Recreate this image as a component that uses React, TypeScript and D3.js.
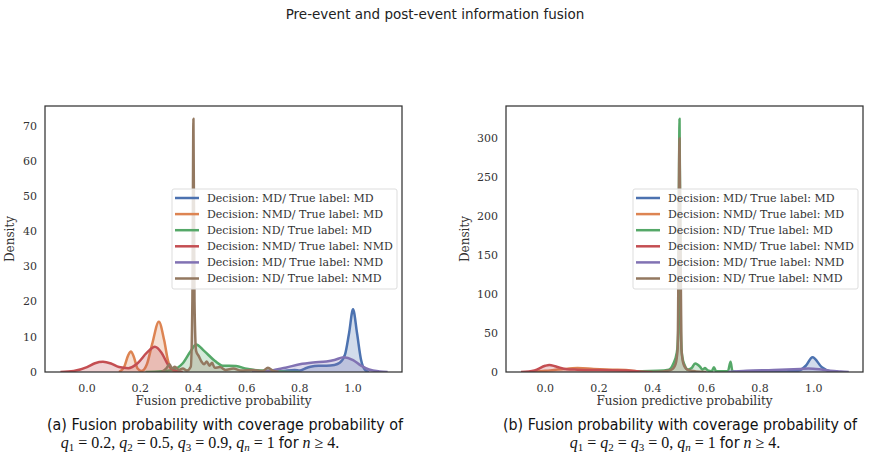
import * as d3 from "d3";

// density curves as [probability, density] pairs
const leftMdMd = [[0.70, 0], [0.74, 0.3], [0.78, 0.6], [0.80, 0.4], [0.82, 1.0], [0.84, 1.5], [0.87, 1.8], [0.90, 1.8], [0.93, 2.0], [0.95, 2.6], [0.97, 5], [0.985, 11], [1.0, 17.8], [1.015, 11], [1.03, 3.5], [1.045, 0.6], [1.06, 0]];
const leftNmdMd = [[0.12, 0], [0.14, 1.5], [0.155, 4.8], [0.165, 5.8], [0.175, 4.5], [0.19, 1.0], [0.205, 0.3], [0.225, 2.2], [0.245, 8], [0.27, 14.3], [0.29, 9], [0.305, 3], [0.32, 0.5], [0.34, 0]];
const leftNdMd = [[0.22, 0], [0.28, 0.2], [0.32, 0.6], [0.36, 2.5], [0.39, 6], [0.41, 7.8], [0.44, 6], [0.48, 3.2], [0.51, 1.8], [0.56, 1.7], [0.6, 0.9], [0.65, 0.4], [0.7, 0.3], [0.75, 0.1], [0.8, 0]];
const leftNmdNmd = [[-0.1, 0], [-0.05, 0.3], [0.0, 1.4], [0.03, 2.5], [0.06, 2.9], [0.09, 2.4], [0.12, 1.4], [0.155, 1.1], [0.19, 2.5], [0.225, 5.5], [0.255, 7.2], [0.28, 5.5], [0.305, 2.0], [0.33, 0.4], [0.36, 0]];
const leftMdNmd = [[0.62, 0], [0.7, 0.5], [0.75, 1.3], [0.8, 2.2], [0.85, 2.7], [0.9, 3.0], [0.93, 3.4], [0.965, 4.2], [1.0, 3.4], [1.03, 1.8], [1.06, 0.7], [1.1, 0.15], [1.13, 0]];
const leftNdNmd = [[0.28, 0], [0.3, 1.2], [0.31, 2.2], [0.32, 1.0], [0.33, 1.5], [0.345, 0.6], [0.36, 1.0], [0.375, 0.4], [0.39, 1.5], [0.396, 20], [0.4, 72], [0.404, 20], [0.41, 6], [0.42, 4.5], [0.43, 3], [0.44, 2.2], [0.45, 3.0], [0.46, 1.8], [0.47, 2.6], [0.48, 1.2], [0.5, 1.4], [0.52, 0.6], [0.55, 1.0], [0.58, 0.4], [0.62, 0.6], [0.66, 0.3], [0.68, 1.2], [0.7, 0.3], [0.72, 0]];

const rightMdMd = [[0.7, 0], [0.8, 0.3], [0.9, 0.8], [0.94, 1.5], [0.97, 8], [0.995, 19], [1.03, 6], [1.06, 1], [1.09, 0]];
const rightNmdMd = [[-0.05, 0], [0.0, 1.5], [0.06, 3.5], [0.12, 5], [0.18, 4], [0.25, 3], [0.3, 2.5], [0.34, 1], [0.38, 0]];
const rightNdMd = [[0.32, 0], [0.36, 1], [0.42, 1.5], [0.46, 3], [0.476, 10], [0.49, 25], [0.495, 50], [0.5, 325], [0.505, 50], [0.51, 20], [0.52, 8], [0.53, 3], [0.545, 5], [0.558, 11], [0.576, 7], [0.585, 3], [0.595, 5], [0.605, 2], [0.62, 1], [0.628, 6], [0.636, 1], [0.66, 1], [0.68, 1], [0.69, 13], [0.697, 1], [0.71, 0]];
const rightNmdNmd = [[-0.09, 0], [-0.04, 2], [0.0, 8], [0.015, 9], [0.04, 7], [0.08, 3.5], [0.12, 3], [0.2, 2.5], [0.3, 2], [0.35, 0.8], [0.4, 0]];
const rightMdNmd = [[0.68, 0], [0.75, 1.5], [0.85, 2.5], [0.95, 4], [0.98, 4.5], [1.02, 3.5], [1.06, 1.5], [1.1, 0.5], [1.13, 0]];
const rightNdNmd = [[0.4, 0], [0.44, 0.8], [0.47, 3], [0.485, 10], [0.493, 30], [0.5, 300], [0.507, 30], [0.515, 10], [0.53, 3], [0.56, 0.8], [0.6, 0]];

const seriesLabels = [
  "Decision: MD/ True label: MD",
  "Decision: NMD/ True label: MD",
  "Decision: ND/ True label: MD",
  "Decision: NMD/ True label: NMD",
  "Decision: MD/ True label: NMD",
  "Decision: ND/ True label: NMD",
];
const palette = ["#4C72B0", "#DD8452", "#55A868", "#C44E52", "#8172B3", "#937860"];

const xTicks = [0, 0.2, 0.4, 0.6, 0.8, 1.0];
const leftYTicks = [0, 10, 20, 30, 40, 50, 60, 70];
const rightYTicks = [0, 50, 100, 150, 200, 250, 300];

const leftSeries = [leftMdMd, leftNmdMd, leftNdMd, leftNmdNmd, leftMdNmd, leftNdNmd];
const rightSeries = [rightMdMd, rightNmdMd, rightNdMd, rightNmdNmd, rightMdNmd, rightNdNmd];

const SERIF = "'DejaVu Serif', serif";
const MATH = "'Liberation Serif', 'DejaVu Serif', serif";
const SANS = "'DejaVu Sans', sans-serif";
const NARROW = "'Liberation Sans Narrow', 'DejaVu Sans Condensed', 'Liberation Sans', sans-serif";

type Pt = number[];

const Panel = ({ left, series, xDomain, yTicks, yLabelX }: { left: number; series: Pt[][]; xDomain: number[]; yTicks: number[]; yLabelX: number }) => {
  const top = 106;
  const bottom = 372;
  const width = 357;
  const yMax = d3.max(series.flat(), (d) => d[1]) * 1.05;
  const x = d3.scaleLinear().domain(xDomain).range([left, left + width]);
  const y = d3.scaleLinear().domain([0, yMax]).range([bottom, top]);

  const line = d3.line<Pt>().x((d) => x(d[0])).y((d) => y(d[1])).curve(d3.curveMonotoneX);
  const area = d3.area<Pt>().x((d) => x(d[0])).y0(y(0)).y1((d) => y(d[1])).curve(d3.curveMonotoneX);

  const clipId = `clip-${left}`;
  const legW = 225;
  const legH = 100;
  const legX = left + width - 5 - legW;
  const legY = (top + bottom) / 2 - legH / 2;

  return (
    <g>
      <defs>
        <clipPath id={clipId}>
          <rect x={left} y={top} width={width} height={bottom - top} />
        </clipPath>
      </defs>
      <g clipPath={`url(#${clipId})`}>
        {series.map((s, i) => (
          <g key={i}>
            <path d={area(s)} fill={palette[i]} fillOpacity={0.25} />
            <path d={line(s)} fill="none" stroke={palette[i]} strokeWidth={2.5} strokeLinejoin="round" />
          </g>
        ))}
      </g>
      <rect x={left} y={top} width={width} height={bottom - top} fill="none" stroke="#333" strokeWidth={1.25} />

      {xTicks.map((t) => (
        <text key={t} x={x(t)} y={bottom + 20} textAnchor="middle" fontFamily={SERIF} fontSize={11} fill="#333">
          {d3.format(".1f")(t)}
        </text>
      ))}
      {yTicks.map((t) => (
        <text key={t} x={left - 8} y={y(t)} dy="0.35em" textAnchor="end" fontFamily={SERIF} fontSize={11} fill="#333">
          {t}
        </text>
      ))}
      <text x={left + width / 2} y={bottom + 33} textAnchor="middle" fontFamily={SERIF} fontSize={12} fill="#333">
        Fusion predictive probability
      </text>
      <text transform={`translate(${yLabelX},${(top + bottom) / 2}) rotate(-90)`} textAnchor="middle" fontFamily={SERIF} fontSize={12} fill="#333">
        Density
      </text>

      <g>
        <rect x={legX} y={legY} width={legW} height={legH} rx={2} fill="#fff" fillOpacity={0.8} stroke="#ddd" strokeWidth={1} />
        {seriesLabels.map((label, i) => {
          const ry = legY + 9 + i * 16.1;
          return (
            <g key={label}>
              <line x1={legX + 3} x2={legX + 27} y1={ry} y2={ry} stroke={palette[i]} strokeWidth={2.5} />
              <text x={legX + 35} y={ry} dy="0.35em" fontFamily={SERIF} fontSize={11} fill="#333">
                {label}
              </text>
            </g>
          );
        })}
      </g>
    </g>
  );
};

// q with a lowered index, as in q₁ or qₙ
const Q = ({ sub }: { sub: string }) => (
  <>
    <tspan fontStyle="italic">q</tspan>
    <tspan fontStyle={sub === "n" ? "italic" : "normal"} fontSize={11} dy={3}>{sub}</tspan>
    <tspan dy={-3}> </tspan>
  </>
);

export default function App() {
  return (
    <div style={{ position: "absolute", left: 0, top: 0 }}>
      <svg width={870} height={461} style={{ display: "block", background: "#fff" }}>
        <text x={435} y={19} textAnchor="middle" fontFamily={SANS} fontSize={13.5} fill="#222">
          Pre-event and post-event information fusion
        </text>

        <Panel left={45} series={leftSeries} xDomain={[-0.158, 1.184]} yTicks={leftYTicks} yLabelX={14} />
        <Panel left={506} series={rightSeries} xDomain={[-0.146, 1.183]} yTicks={rightYTicks} yLabelX={469} />

        <text x={225} y={430} textAnchor="middle" fontFamily={NARROW} fontSize={16} fill="#111" textLength={356} lengthAdjust="spacingAndGlyphs">
          (a) Fusion probability with coverage probability of
        </text>
        <text x={200} y={448} textAnchor="middle" fontFamily={MATH} fontSize={16} fill="#111">
          <Q sub="1" />= 0.2, <Q sub="2" />= 0.5, <Q sub="3" />= 0.9, <Q sub="n" />= 1 <tspan fontFamily={NARROW}>for</tspan> <tspan fontStyle="italic">n</tspan> ≥ 4.
        </text>

        <text x={680} y={430} textAnchor="middle" fontFamily={NARROW} fontSize={16} fill="#111" textLength={354} lengthAdjust="spacingAndGlyphs">
          (b) Fusion probability with coverage probability of
        </text>
        <text x={675} y={448} textAnchor="middle" fontFamily={MATH} fontSize={16} fill="#111">
          <Q sub="1" />= <Q sub="2" />= <Q sub="3" />= 0, <Q sub="n" />= 1 <tspan fontFamily={NARROW}>for</tspan> <tspan fontStyle="italic">n</tspan> ≥ 4.
        </text>
      </svg>
    </div>
  );
}
